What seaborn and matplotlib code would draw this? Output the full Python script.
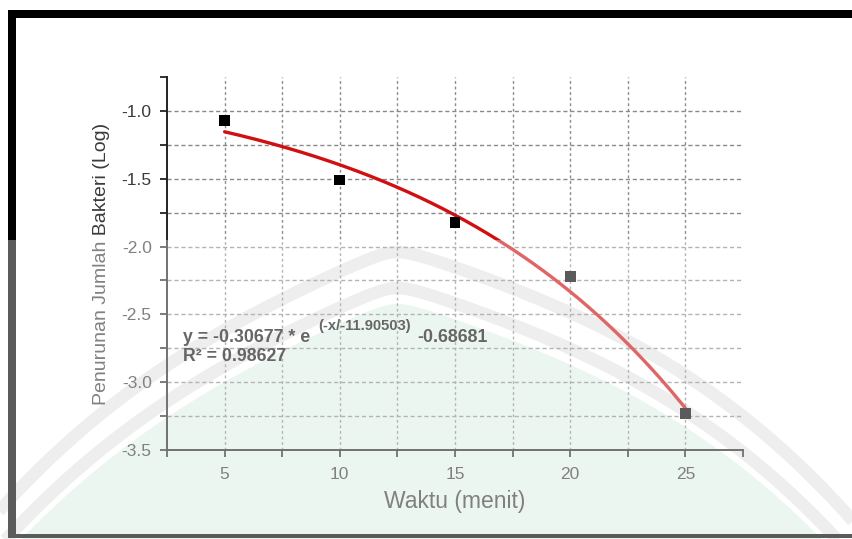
import numpy as np
import pandas as pd
import matplotlib
matplotlib.use("Agg")
import matplotlib.pyplot as plt
from matplotlib.patches import Rectangle, Polygon
from matplotlib.lines import Line2D
import seaborn as sns

# ---- data ----
waktu = [5, 10, 15, 20, 25]
penurunan = [-1.07, -1.51, -1.82, -2.22, -3.23]

# fitted exponential shown on the chart: y = A * exp(-x / T) + Y0
fit_A = -0.30677
fit_T = -11.90503
fit_Y0 = -0.68681
fit_R2 = 0.98627

x_ticks = [5, 10, 15, 20, 25]
y_ticks = [-3.5, -3.0, -2.5, -2.0, -1.5, -1.0]

sns.set_style("ticks")
plt.rcParams["font.family"] = ["Liberation Sans", "DejaVu Sans"]
plt.rcParams["axes.unicode_minus"] = False

W, H = 853, 539
fig = plt.figure(figsize=(W / 100, H / 100), dpi=100, facecolor="white")

def fx(px):
    return px / W

def fy(py):
    return 1 - py / H

# ---- faint scanned watermark behind the chart (decoration only) ----
def arch(px, apex_x=397.0, apex_y=252.0, off=0.0):
    dx = px - apex_x
    r = np.sqrt(dx ** 2 + 18.0 ** 2) - 18.0
    left = 0.466 * r + 1.485e-6 * r ** 3
    right = 0.356 * r + 1.339e-6 * r ** 3
    return apex_y + off + np.where(dx < 0, left, right)

wx = np.linspace(-20, 880, 600)
for off in (0.0, 36.0):
    fig.lines.append(Line2D(fx(wx), fy(arch(wx, off=off)), transform=fig.transFigure,
                            color="#e5e5e5", lw=9, solid_capstyle="butt", zorder=-1))
gy = arch(wx, off=52.0)
poly = list(zip(fx(wx), fy(gy))) + [(fx(880), fy(560)), (fx(-20), fy(560))]
fig.patches.append(Polygon(poly, closed=True, transform=fig.transFigure,
                           facecolor="#e2f2e8", edgecolor="none", zorder=-2))

ax = fig.add_axes([fx(167), fy(450), fx(743) - fx(167), fy(77) - fy(450)])
ax.set_facecolor("none")

xlim = (2.5, 27.5)
ylim = (-3.5, -0.75)
ax.set_xlim(*xlim)
ax.set_ylim(*ylim)

# grid
xg = np.arange(5, 25.01, 2.5)
yg = np.arange(-3.25, -0.99, 0.25)
ax.vlines(xg, ylim[0], ylim[1], colors="#8a8a8a", lw=1.0, linestyles=(0, (2, 2)), zorder=1)
ax.hlines(yg, xlim[0], xlim[1], colors="#8a8a8a", lw=1.0, linestyles=(0, (3, 2)), zorder=1)

# fit curve
xs = np.linspace(min(waktu), max(waktu), 200)
fit_df = pd.DataFrame({"x": xs, "y": fit_A * np.exp(-xs / fit_T) + fit_Y0})
sns.lineplot(data=fit_df, x="x", y="y", ax=ax, color="#d01010", lw=2.4, zorder=3)

pts = pd.DataFrame({"Waktu": waktu, "Penurunan": penurunan})
sns.scatterplot(data=pts, x="Waktu", y="Penurunan", ax=ax, marker="s", s=60,
                color="black", edgecolor="none", zorder=4)

ax.set_xticks(x_ticks)
ax.set_xticks(np.arange(2.5, 27.6, 2.5), minor=True)
ax.set_yticks(y_ticks)
ax.set_yticks(np.arange(-3.5, -0.74, 0.25), minor=True)
ax.set_xticklabels([str(v) for v in x_ticks])
ax.set_yticklabels([f"{v:.1f}" for v in y_ticks])

for s in ["top", "right"]:
    ax.spines[s].set_visible(False)
for s in ["left", "bottom"]:
    ax.spines[s].set_color("#222222")
    ax.spines[s].set_linewidth(1.4)
ax.tick_params(which="both", direction="out", length=5, width=1.3, color="#222222",
               labelsize=12.5, labelcolor="#3a3a3a")
ax.tick_params(axis="x", pad=7)
ax.tick_params(axis="y", pad=6)

ax.set_xlabel("Waktu (menit)", fontsize=16.5, color="#3a3a3a", labelpad=6)
ax.set_ylabel("Penurunan Jumlah Bakteri (Log)", fontsize=14, color="#3a3a3a", labelpad=8)

# equation text
tc = "#111111"
t1 = ax.text(3.2, -2.667, "y = %.5f * e" % fit_A, fontsize=12.8, fontweight="bold",
             color=tc, va="center", ha="left", zorder=5)
t2 = ax.annotate("(-x/%.5f)" % fit_T, xy=(1, 0.5), xycoords=t1, xytext=(6, 8),
                 textcoords="offset points", fontsize=10.6, fontweight="bold",
                 color=tc, va="center", ha="left", zorder=5)
ax.annotate("%.5f" % fit_Y0, xy=(1, 0.5), xycoords=(t2, t1), xytext=(4, 0),
            textcoords="offset points", fontsize=12.8, fontweight="bold",
            color=tc, va="center", ha="left", zorder=5)
ax.text(3.2, -2.814, "R² = %.5f" % fit_R2, fontsize=12.8, fontweight="bold",
        color=tc, va="center", ha="left", zorder=5)

# outer frame
fig.patches.append(Rectangle((fx(8), fy(18)), 1, fy(10) - fy(18), transform=fig.transFigure,
                             facecolor="black", edgecolor="none", zorder=5))
fig.patches.append(Rectangle((fx(8), fy(538)), fx(16) - fx(8), fy(10) - fy(538),
                             transform=fig.transFigure, facecolor="black",
                             edgecolor="none", zorder=5))
fig.patches.append(Rectangle((fx(8), fy(538)), 1, fy(534) - fy(538), transform=fig.transFigure,
                             facecolor="black", edgecolor="none", zorder=5))

# light overlay of the scanned watermark over the lower part
fig.patches.append(Rectangle((0, 0), 1, fy(240), transform=fig.transFigure,
                             facecolor="white", alpha=0.36, edgecolor="none", zorder=1000))

fig.savefig("out.png", dpi=100, facecolor="white")
